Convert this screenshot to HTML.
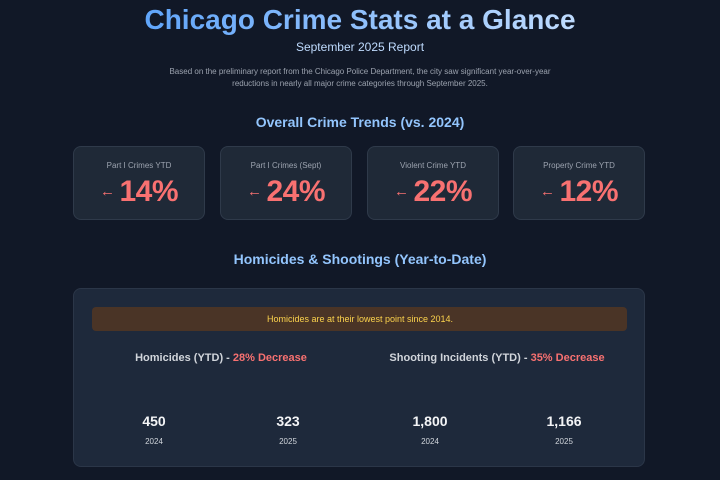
<!DOCTYPE html><html><head><style>
body{margin:0;width:720px;height:480px;background:#111827;font-family:"Liberation Sans",sans-serif;position:relative;overflow:hidden}
.a{position:absolute;white-space:nowrap}
.c{transform:translateX(-50%)}
.card{position:absolute;top:146px;width:132px;height:74px;background:#1f2937;border:1px solid #2f3a4a;border-radius:8px;box-sizing:border-box;text-align:center}
.card .l{margin-top:14px;font-size:8px;color:#9ca3af}
.card .v{margin-top:5px;font-size:30px;font-weight:bold;color:#f87171;letter-spacing:-0.5px}
.card .v small{font-size:15px;vertical-align:5px;margin-right:5px}
</style></head><body>
<div class="a c" style="left:360px;top:4px;font-size:28px;font-weight:bold;background:linear-gradient(90deg,#60a5fa,#bfdbfe);-webkit-background-clip:text;color:transparent">Chicago Crime Stats at a Glance</div>
<div class="a c" style="left:360px;top:40px;font-size:12px;color:#bfdbfe">September 2025 Report</div>
<div class="a c" style="left:360px;top:66px;font-size:8px;color:#9ca3af;text-align:center;line-height:12px">Based on the preliminary report from the Chicago Police Department, the city saw significant year-over-year<br>reductions in nearly all major crime categories through September 2025.</div>
<div class="a c" style="left:360px;top:114px;font-size:14px;font-weight:bold;color:#93c5fd">Overall Crime Trends (vs. 2024)</div>
<div class="card" style="left:73px"><div class="l">Part I Crimes YTD</div><div class="v"><small>←</small>14%</div></div>
<div class="card" style="left:220px"><div class="l">Part I Crimes (Sept)</div><div class="v"><small>←</small>24%</div></div>
<div class="card" style="left:367px"><div class="l">Violent Crime YTD</div><div class="v"><small>←</small>22%</div></div>
<div class="card" style="left:513px"><div class="l">Property Crime YTD</div><div class="v"><small>←</small>12%</div></div>
<div class="a c" style="left:360px;top:251px;font-size:14px;font-weight:bold;color:#93c5fd">Homicides &amp; Shootings (Year-to-Date)</div>
<div class="a" style="left:73px;top:288px;width:572px;height:179px;background:#1e293b;border:1px solid #2b3648;border-radius:8px;box-sizing:border-box"></div>
<div class="a" style="left:92px;top:307px;width:535px;height:24px;background:#4a3426;border-radius:4px"></div>
<div class="a c" style="left:360px;top:314px;font-size:9px;color:#fcd34d">Homicides are at their lowest point since 2014.</div>
<div class="a c" style="left:221px;top:352px;font-size:11px;font-weight:bold;color:#d1d5db">Homicides (YTD) - <span style="color:#f87171">28% Decrease</span></div>
<div class="a c" style="left:497px;top:352px;font-size:11px;font-weight:bold;color:#d1d5db">Shooting Incidents (YTD) - <span style="color:#f87171">35% Decrease</span></div>
<div class="a c" style="left:154px;top:413px;font-size:14px;font-weight:bold;color:#f3f4f6">450</div>
<div class="a c" style="left:288px;top:413px;font-size:14px;font-weight:bold;color:#f3f4f6">323</div>
<div class="a c" style="left:430px;top:413px;font-size:14px;font-weight:bold;color:#f3f4f6">1,800</div>
<div class="a c" style="left:564px;top:413px;font-size:14px;font-weight:bold;color:#f3f4f6">1,166</div>
<div class="a c" style="left:154px;top:437px;font-size:8px;color:#d1d5db">2024</div>
<div class="a c" style="left:288px;top:437px;font-size:8px;color:#d1d5db">2025</div>
<div class="a c" style="left:430px;top:437px;font-size:8px;color:#d1d5db">2024</div>
<div class="a c" style="left:564px;top:437px;font-size:8px;color:#d1d5db">2025</div>
</body></html>
